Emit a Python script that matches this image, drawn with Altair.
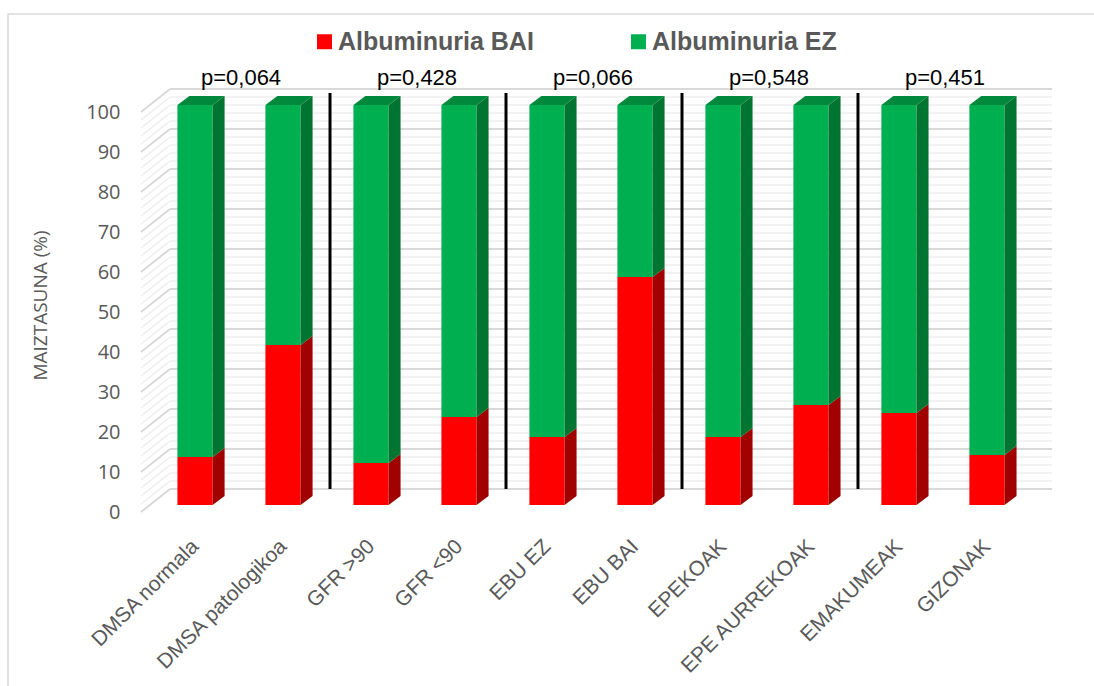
import json
import altair as alt
import pandas as pd

# ---- data -------------------------------------------------------------
categories = ["DMSA normala", "DMSA patologikoa", "GFR >90", "GFR <90", "EBU EZ",
              "EBU BAI", "EPEKOAK", "EPE AURREKOAK", "EMAKUMEAK", "GIZONAK"]
albuminuria_bai = [12, 40, 10.5, 22, 17, 57, 17, 25, 23, 12.5]
albuminuria_ez = [88, 60, 89.5, 78, 83, 43, 83, 75, 77, 87.5]
series_names = ["Albuminuria BAI", "Albuminuria EZ"]
p_values = ["p=0,064", "p=0,428", "p=0,066", "p=0,548", "p=0,451"]
y_ticks = list(range(0, 101, 10))

# ---- styling ----------------------------------------------------------
front_colors = ["#FF0000", "#00B050"]
side_colors = ["#A00000", "#007532"]
top_color = "#00883C"
grey_text = "#595959"
sans = "Liberation Sans"

HALF = 0.2    # half width of a column's front face (x units)
DX = 0.136    # depth of the 3-D block along x (x units)
DY = 2.25     # depth of the 3-D block along y (value units)

W, H = 911, 400
xs = alt.Scale(domain=[-0.614, 9.739], nice=False, zero=False)
ys = alt.Scale(domain=[0, 100], nice=False, zero=False)

# ---- tables -----------------------------------------------------------
front_rows, side_rows, top_rows = [], [], []
for i, cat in enumerate(categories):
    base = 0
    for s, val in zip(series_names, (albuminuria_bai[i], albuminuria_ez[i])):
        lo, hi = base, base + val
        front_rows.append({"cat": cat, "series": s, "x0": i - HALF, "x1": i + HALF,
                           "lo": lo, "hi": hi})
        seg = f"{i}-{s}"
        side_rows.append({"seg": seg, "series": s, "x": i + HALF, "lo": lo, "hi": hi})
        side_rows.append({"seg": seg, "series": s, "x": i + HALF + DX,
                          "lo": lo + DY, "hi": hi + DY})
        base = hi
    top_rows.append({"bar": i, "yy": base, "xa": i - HALF, "xb": i + HALF})
    top_rows.append({"bar": i, "yy": base + DY, "xa": i - HALF + DX, "xb": i + HALF + DX})

front_df = pd.DataFrame(front_rows)
side_df = pd.DataFrame(side_rows)
top_df = pd.DataFrame(top_rows)
major_df = pd.DataFrame({"v": y_ticks})
minor_df = pd.DataFrame({"v": [v for v in range(0, 101, 2) if v % 10]})
sep_df = pd.DataFrame({"sx": [2 * k + 1.5 for k in range(len(p_values) - 1)]})
p_df = pd.DataFrame({"px": [2 * k + 0.5 for k in range(len(p_values))], "label": p_values})
frame_df = pd.DataFrame({"a": [0]})

label_expr = json.dumps(categories) + "[datum.value]"

# one axis definition shared by every layer so the layers merge cleanly
x_axis = alt.Axis(values=list(range(len(categories))), labelExpr=label_expr,
                  labelAngle=-45, labelAlign="right", labelBaseline="middle",
                  labelPadding=38, labelOverlap=False, labelFlush=False,
                  labelFont=sans, labelFontSize=21, labelColor=grey_text,
                  ticks=False, domain=False, grid=False, title=None)
y_axis = alt.Axis(values=y_ticks, ticks=False, domain=False, grid=False,
                  labelPadding=21, labelOffset=7, labelFont="Open Sans",
                  labelFontSize=20, labelColor=grey_text,
                  title="MAIZTASUNA (%)", titleFont="Open Sans", titleFontSize=19,
                  titleFontWeight="normal", titleColor=grey_text,
                  titleAngle=270, titleAlign="center", titleBaseline="middle",
                  titleX=-101, titleY=200)


def X(field):
    return alt.X(field, scale=xs, axis=x_axis)


def Y(field):
    return alt.Y(field, scale=ys, axis=y_axis)


# ---- back wall & side wall gridlines ------------------------------------
minor_back = alt.Chart(minor_df).mark_rule(color="#EEEEEE", strokeWidth=1.5, yOffset=-16).encode(
    y=Y("v:Q"), x=alt.value(29), x2=alt.value(W))
major_back = alt.Chart(major_df).mark_rule(color="#D9D9D9", strokeWidth=2, yOffset=-16).encode(
    y=Y("v:Q"), x=alt.value(29), x2=alt.value(W))
minor_side = alt.Chart(minor_df).mark_rule(color="#EEEEEE", strokeWidth=1.5,
                                           yOffset=7, y2Offset=-16).encode(
    y=Y("v:Q"), y2="v:Q", x=alt.value(0), x2=alt.value(29))
major_side = alt.Chart(major_df).mark_rule(color="#D9D9D9", strokeWidth=2,
                                           yOffset=7, y2Offset=-16).encode(
    y=Y("v:Q"), y2="v:Q", x=alt.value(0), x2=alt.value(29))

# ---- separators between the compared pairs -----------------------------
separators = alt.Chart(sep_df).mark_rule(color="black", strokeWidth=3, xOffset=3,
                                         yOffset=-16, y2Offset=-16).encode(
    x=X("sx:Q"), y=alt.datum(0, scale=ys, axis=y_axis), y2=alt.datum(99))

# ---- 3-D columns -------------------------------------------------------
front = alt.Chart(front_df).mark_rect().encode(
    x=X("x0:Q"), x2="x1:Q",
    y=Y("lo:Q"), y2="hi:Q",
    color=alt.Color("series:N", scale=alt.Scale(domain=series_names, range=front_colors),
                    legend=alt.Legend(title=None, orient="none", direction="horizontal",
                                      legendX=171, legendY=-76, padding=0,
                                      symbolType="square", symbolSize=225,
                                      symbolStrokeWidth=0, symbolOpacity=1,
                                      labelFont=sans, labelFontSize=25,
                                      labelFontWeight="bold", labelColor=grey_text,
                                      labelOffset=1, columnPadding=92, labelLimit=400)),
)
side = alt.Chart(side_df).mark_area(orient="vertical").encode(
    x=X("x:Q"),
    y=Y("lo:Q"), y2="hi:Q",
    detail="seg:N",
    fill=alt.Fill("series:N", scale=alt.Scale(domain=series_names, range=side_colors),
                  legend=None),
)
top = alt.Chart(top_df).mark_area(orient="horizontal", color=top_color).encode(
    y=Y("yy:Q"),
    x=X("xa:Q"), x2="xb:Q",
    detail="bar:N",
)

# ---- p-value annotations -----------------------------------------------
pvals = alt.Chart(p_df).mark_text(font=sans, fontSize=22, color="black", dy=-20,
                                  dx=2, baseline="alphabetic", align="center").encode(
    x=X("px:Q"), y=alt.datum(100, scale=ys, axis=y_axis), text="label:N")

# ---- chart frame -------------------------------------------------------
frame = alt.Chart(frame_df).mark_rect(fillOpacity=0, stroke="#D9D9D9", strokeWidth=1.5).encode(
    x=alt.value(-133), x2=alt.value(1000), y=alt.value(-91), y2=alt.value(640))

chart = alt.layer(
    frame, minor_back, major_back, minor_side, major_side, separators,
    front, side, top, pvals,
).properties(
    width=W, height=H,
    autosize=alt.AutoSizeParams(type="none"),
    padding={"left": 141, "top": 105, "right": 42, "bottom": 181},
    background="white",
).configure_view(strokeWidth=0)

chart.save("out.html", embed_options={"renderer": "svg", "actions": False})
